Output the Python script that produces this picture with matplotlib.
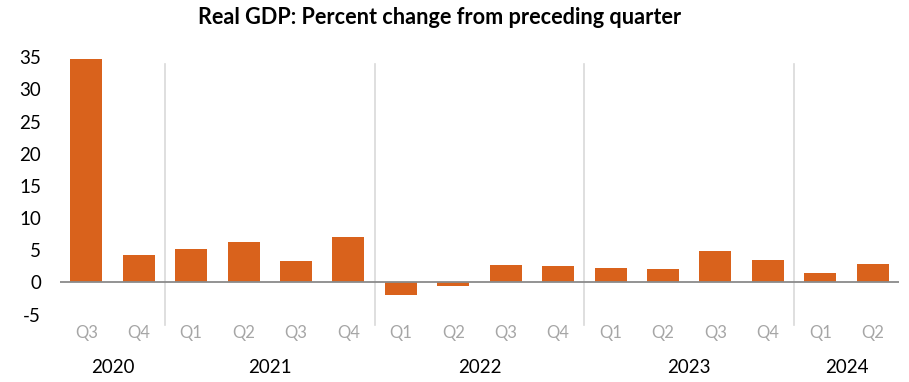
import matplotlib
matplotlib.use("Agg")
import matplotlib.pyplot as plt
import matplotlib.transforms as mtransforms

plt.rcParams['font.family'] = ['Lato', 'DejaVu Sans']

quarters = ["Q3", "Q4", "Q1", "Q2", "Q3", "Q4", "Q1", "Q2", "Q3", "Q4",
            "Q1", "Q2", "Q3", "Q4", "Q1", "Q2"]
values = [34.8, 4.2, 5.2, 6.2, 3.3, 7.0, -2.0, -0.6, 2.7, 2.6,
          2.2, 2.1, 4.9, 3.4, 1.4, 2.8]
years = ["2020", "2021", "2022", "2023", "2024"]
year_counts = [2, 4, 4, 4, 2]
yticks = [-5, 0, 5, 10, 15, 20, 25, 30, 35]

fig = plt.figure(figsize=(9.09, 3.82), dpi=100)
ax = fig.add_axes([60/909, 67.5/382, 839/909, 257.2/382])

x = list(range(len(values)))
ax.bar(x, values, width=0.61, color='#D9621C', zorder=2)
ax.axhline(0, color='#8a8a8a', linewidth=1.3, zorder=3)

ax.set_xlim(-0.5, len(values) - 0.5)
ax.set_ylim(-5, 35)
ax.set_yticks(yticks)
ax.set_yticklabels([str(t) for t in yticks], fontsize=13.5, color='#000000')
ax.tick_params(axis='y', length=0, pad=13.5)
ax.set_xticks([])
for s in ax.spines.values():
    s.set_visible(False)

trans = mtransforms.blended_transform_factory(ax.transData, ax.transAxes)
for i, q in enumerate(quarters):
    ax.text(i, -0.072, q, transform=trans, ha='center', va='center',
            fontsize=12, color='#a6a6a6')

start = 0
for y, c in zip(years, year_counts):
    center = start + (c - 1) / 2
    ax.text(center, -0.208, y, transform=trans, ha='center', va='center',
            fontsize=13.5, color='#000000')
    if start > 0:
        ax.plot([start - 0.5, start - 0.5], [0.974, -0.041], transform=trans,
                color='#d9d9d9', linewidth=1.2, clip_on=False, zorder=1)
    start += c

fig.text(440/909, 1 - 18/382, "Real GDP: Percent change from preceding quarter",
         ha='center', va='center', fontsize=15.6, fontweight='bold', color='#000000')

fig.savefig("out.png", dpi=100)
